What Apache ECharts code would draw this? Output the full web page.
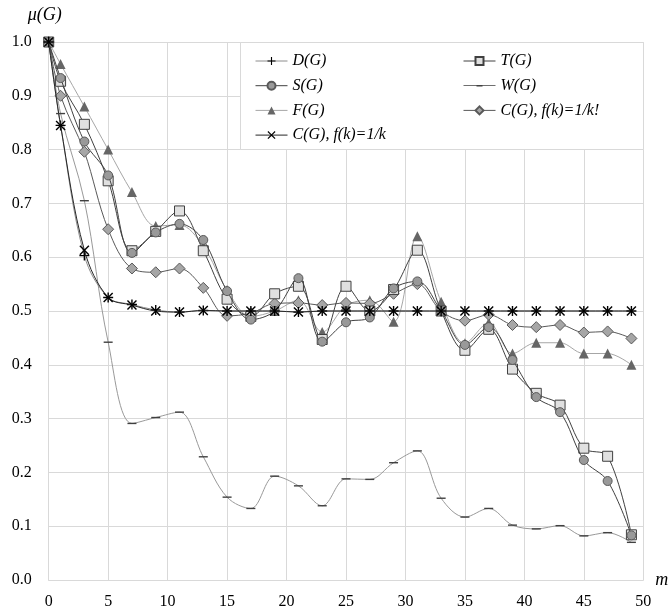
<!DOCTYPE html>
<html>
<head>
<meta charset="utf-8">
<script src="https://cdn.jsdelivr.net/npm/echarts@6/dist/echarts.min.js"></script>
<style>html,body{margin:0;padding:0;background:#fff}#c{width:672px;height:612px}</style>
</head>
<body>
<div id="c"></div>
<script>
var xs = [0,1,3,5,7,9,11,13,15,17,19,21,23,25,27,29,31,33,35,37,39,41,43,45,47,49];
var seriesNames = ['D(G)','T(G)','S(G)','W(G)','F(G)','C(G), f(k)=1/k!','C(G), f(k)=1/k'];
var dVals = [1.0,0.845,0.603,0.525,0.512,0.502,0.498,0.501,0.500,0.500,0.500,0.498,0.500,0.500,0.500,0.500,0.500,0.500,0.500,0.500,0.500,0.500,0.500,0.500,0.500,0.500];
var tVals = [1.0,0.927,0.847,0.742,0.612,0.648,0.686,0.612,0.522,0.490,0.532,0.546,0.447,0.546,0.500,0.540,0.613,0.500,0.427,0.466,0.392,0.347,0.325,0.245,0.230,0.084];
var sVals = [1.0,0.933,0.815,0.752,0.608,0.646,0.662,0.632,0.537,0.484,0.500,0.561,0.443,0.479,0.488,0.542,0.555,0.500,0.437,0.470,0.409,0.340,0.312,0.223,0.184,0.083];
var wVals = [1.0,0.867,0.705,0.442,0.291,0.302,0.312,0.229,0.154,0.133,0.193,0.175,0.138,0.188,0.187,0.218,0.240,0.152,0.117,0.133,0.102,0.095,0.101,0.082,0.088,0.070];
var fVals = [1.0,0.959,0.880,0.800,0.721,0.658,0.660,0.620,0.539,0.490,0.500,0.520,0.461,0.510,0.520,0.480,0.639,0.517,0.440,0.478,0.421,0.441,0.441,0.421,0.421,0.400];
var cFactVals = [1.0,0.900,0.796,0.652,0.579,0.572,0.579,0.543,0.491,0.496,0.514,0.515,0.511,0.515,0.514,0.532,0.550,0.500,0.482,0.493,0.474,0.470,0.474,0.460,0.462,0.449];
var cInvVals = [1.0,0.845,0.613,0.525,0.511,0.500,0.498,0.501,0.500,0.500,0.500,0.498,0.500,0.500,0.500,0.500,0.500,0.500,0.500,0.500,0.500,0.500,0.500,0.500,0.500,0.500];
var xTicks = {min:0, max:50, interval:5};
var yTicks = {min:0, max:1, interval:0.1};

function pairs(v){ return xs.map(function(x,i){ return [x, v[i]]; }); }

var SERIF = "'Liberation Serif', 'DejaVu Serif', serif";
var PLUS = 'path://M4.3,0H5.7V4.3H10V5.7H5.7V10H4.3V5.7H0V4.3H4.3Z';
var CROSS = 'path://M1,0L5,4L9,0L10,1L6,5L10,9L9,10L5,6L1,10L0,9L4,5L0,1Z';
var W_LEGEND = 'path://M0,0h0.01v0.01h-0.01zM31.99,9.99h0.01v0.01h-0.01zM0,4.65H32V5.35H0ZM13,4.3H19V5.7H13Z';

function mk(name, vals, lineColor, symbol, size, fill, border, z){
  return {
    name: name, type: 'line', data: pairs(vals), smooth: 0.35,
    symbol: symbol, symbolSize: size, showSymbol: true,
    lineStyle: {color: lineColor, width: 1},
    itemStyle: {color: fill, borderColor: border, borderWidth: border ? 1 : 0},
    z: z, emphasis: {disabled: true}, animation: false
  };
}

var series = [
  mk(seriesNames[3], wVals, '#999999', 'rect', [9,1.4], '#404040', null, 2),
  mk(seriesNames[4], fVals, '#a6a6a6', 'triangle', 10, '#666666', null, 3),
  mk(seriesNames[5], cFactVals, '#595959', 'diamond', 11, '#a6a6a6', '#595959', 4),
  mk(seriesNames[1], tVals, '#404040', 'rect', 10, '#e0e0e0', '#404040', 5),
  mk(seriesNames[2], sVals, '#404040', 'circle', 9, '#999999', '#595959', 6),
  mk(seriesNames[0], dVals, '#8c8c8c', PLUS, 10, '#000000', null, 7),
  mk(seriesNames[6], cInvVals, '#262626', CROSS, 10, '#000000', null, 8)
];

var legendText = {fontFamily: SERIF, fontStyle: 'italic', fontSize: 16, color: '#000'};
var legendLine = {width: 1};
var chart = echarts.init(document.getElementById('c'), null, {renderer: 'canvas'});
chart.setOption({
  backgroundColor: '#fff',
  animation: false,
  grid: {left: 48.7, right: 28.7, top: 42, bottom: 32, containLabel: false},
  graphic: [{
    type: 'rect', z: 1, left: 240, top: 42,
    shape: {width: 403, height: 107},
    style: {fill: '#fff', stroke: '#d9d9d9', lineWidth: 1}
  }],
  legend: [
    {data: [seriesNames[0], seriesNames[2], seriesNames[4], seriesNames[6]], orient: 'vertical',
     left: 250, top: 48, itemWidth: 32, itemHeight: 10, itemGap: 8.7, textStyle: legendText,
     lineStyle: legendLine, z: 10, selectedMode: false},
    {data: [seriesNames[1], {name: seriesNames[3], icon: W_LEGEND}, seriesNames[5]], orient: 'vertical',
     left: 458, top: 48, itemWidth: 32, itemHeight: 10, itemGap: 8.7, textStyle: legendText,
     lineStyle: legendLine, z: 10, selectedMode: false}
  ],
  xAxis: {
    type: 'value', min: xTicks.min, max: xTicks.max, interval: xTicks.interval,
    name: 'm', nameLocation: 'end', nameGap: 12,
    nameTextStyle: {fontFamily: SERIF, fontStyle: 'italic', fontSize: 18, color: '#000'},
    axisLine: {show: true, lineStyle: {color: '#d9d9d9'}},
    axisTick: {show: false},
    splitLine: {show: true, lineStyle: {color: '#d9d9d9', width: 1}},
    axisLabel: {fontFamily: SERIF, fontSize: 16, color: '#000', margin: 14}
  },
  yAxis: {
    type: 'value', min: yTicks.min, max: yTicks.max, interval: yTicks.interval,
    name: 'μ(G)', nameLocation: 'end', nameGap: 18,
    nameTextStyle: {fontFamily: SERIF, fontStyle: 'italic', fontSize: 18, color: '#000', align: 'center', padding: [0, 8, 0, 0]},
    axisLine: {show: true, lineStyle: {color: '#d9d9d9'}},
    axisTick: {show: false},
    splitLine: {show: true, lineStyle: {color: '#d9d9d9', width: 1}},
    axisLabel: {fontFamily: SERIF, fontSize: 16, color: '#000', margin: 17,
      formatter: function(v){ return v.toFixed(1); }}
  },
  series: series
});
</script>
</body>
</html>
